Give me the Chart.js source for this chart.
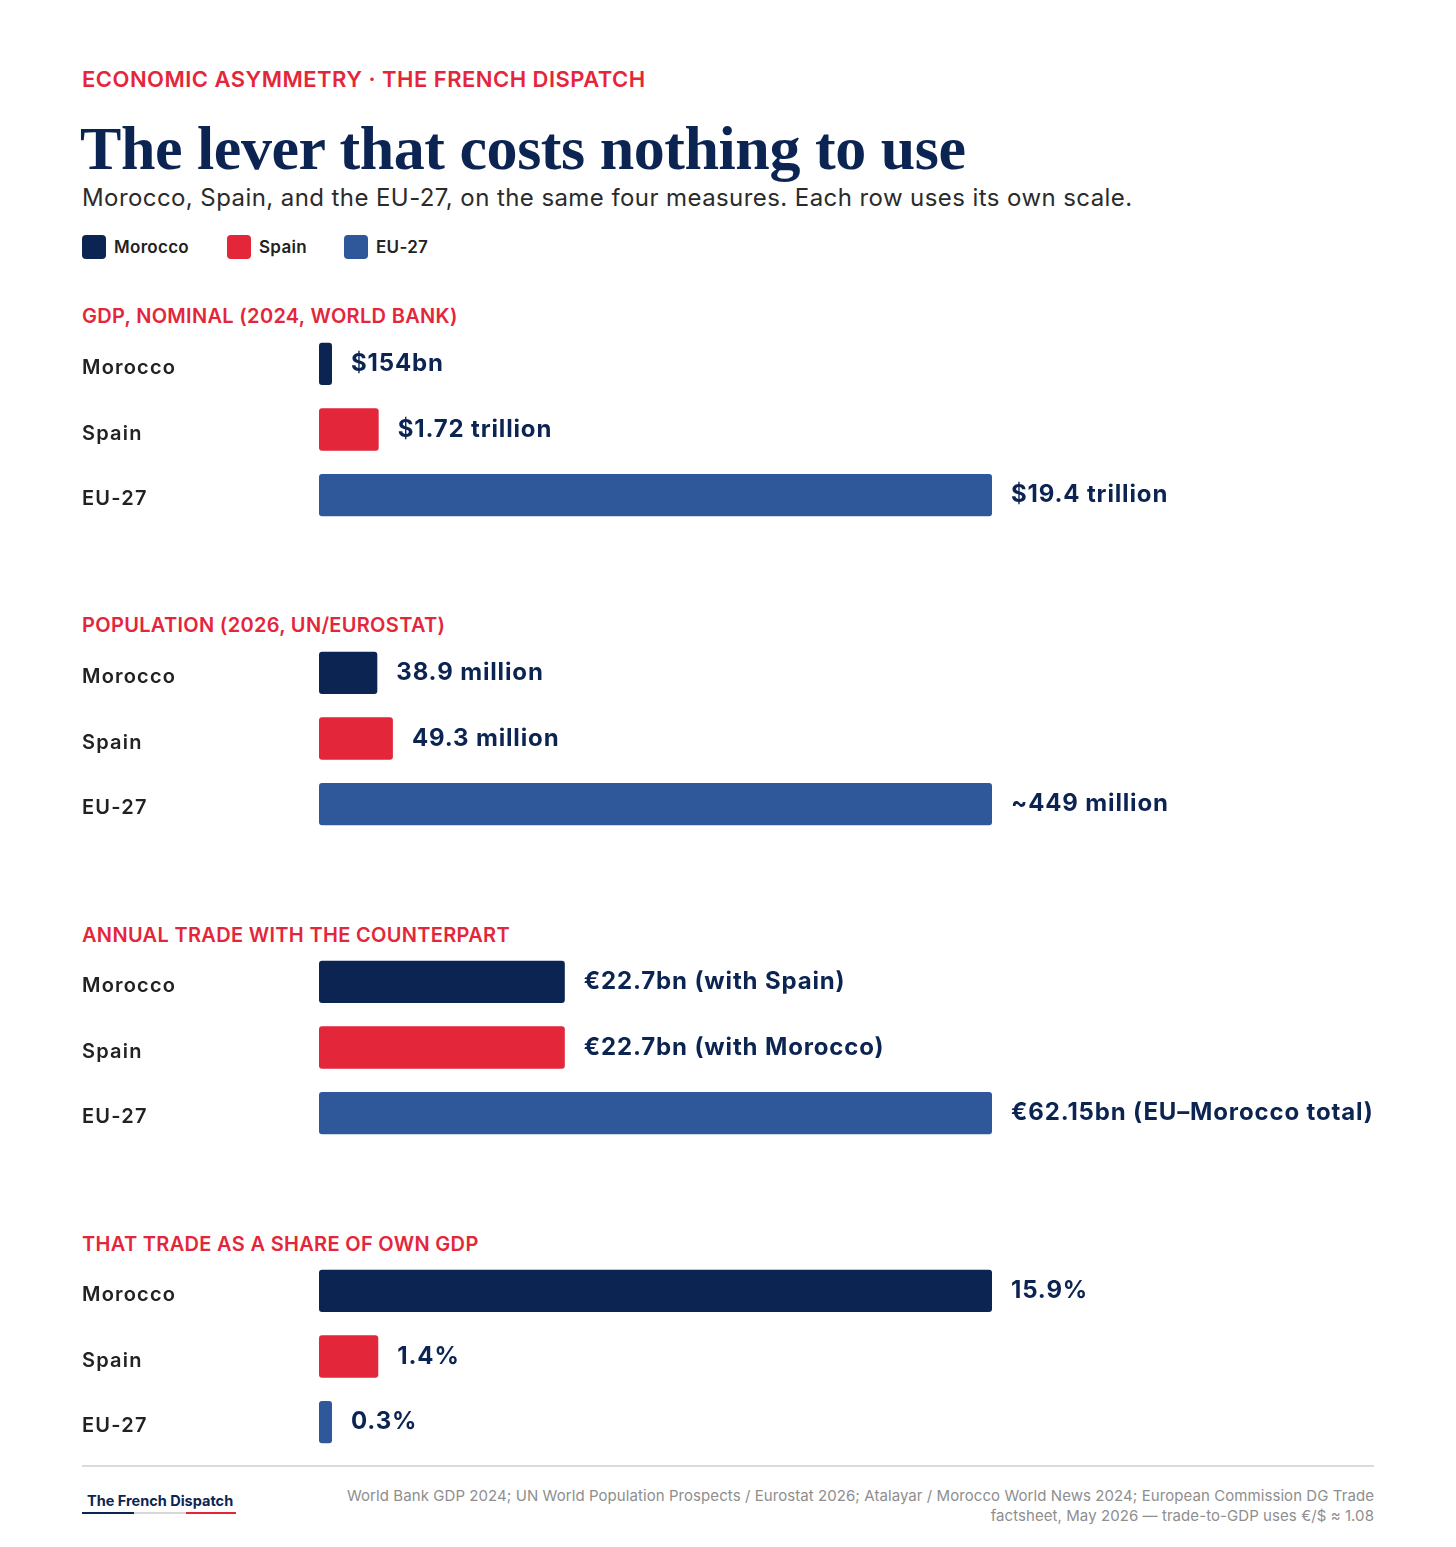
<!DOCTYPE html>
<html>
<head>
<meta charset="utf-8">
<script src="https://cdn.jsdelivr.net/npm/chart.js@4.4.1/dist/chart.umd.min.js"></script>
<style>
  html, body { margin: 0; padding: 0; background: #ffffff; }
  #page { position: relative; width: 1456px; height: 1547px; background: #ffffff; overflow: hidden; font-family: Inter, "Noto Sans", sans-serif; }
  .abs { position: absolute; white-space: nowrap; }
  #kicker { left: 82px; top: 66px; font-size: 22px; font-weight: 600; color: #e4263a; letter-spacing: 0.48px; }
  #title { left: 80px; top: 110px; font-family: "Liberation Serif", serif; font-weight: 700; font-size: 62px; color: #0c2452; letter-spacing: -0.45px; line-height: 76px; }
  #subtitle { left: 82px; top: 183px; font-size: 24px; font-weight: 400; color: #2b2b2b; letter-spacing: 0.42px; }
  .legend { top: 235px; display: flex; align-items: center; font-size: 17px; font-weight: 600; color: #222; letter-spacing: 0.3px; }
  .legend .sw { width: 24px; height: 24px; border-radius: 4px; margin-right: 8px; }
  .sect { left: 82px; font-size: 20px; font-weight: 600; color: #e4263a; letter-spacing: 0.32px; }
  .chartbox { position: absolute; left: 82px; width: 1340px; height: 197px; }
  #divider { left: 82px; top: 1465px; width: 1292px; height: 2px; background: #dcdcd6; }
  #brand { left: 87px; top: 1492px; font-size: 14.5px; font-weight: 700; color: #0c2452; }
  .ul { top: 1512px; height: 2px; }
  #source { right: 82px; top: 1486px; text-align: right; font-size: 15px; color: #8e8e8e; line-height: 20px; letter-spacing: 0.07px; }
</style>
</head>
<body>
<div id="page">
  <div id="kicker" class="abs">ECONOMIC ASYMMETRY · THE FRENCH DISPATCH</div>
  <div id="title" class="abs">The lever that costs nothing to use</div>
  <div id="subtitle" class="abs">Morocco, Spain, and the EU-27, on the same four measures. Each row uses its own scale.</div>
  <div id="legendRow"></div>
  <div id="divider" class="abs"></div>
  <div id="brand" class="abs">The French Dispatch</div>
  <div class="abs ul" style="left:82px;width:52px;background:#0c2452;"></div>
  <div class="abs ul" style="left:134px;width:52px;background:#d8d8d8;"></div>
  <div class="abs ul" style="left:186px;width:50px;background:#e4263a;"></div>
  <div id="source" class="abs">World Bank GDP 2024; UN World Population Prospects / Eurostat 2026; Atalayar / Morocco World News 2024; European Commission DG Trade<br>factsheet, May 2026 — trade-to-GDP uses €/$ ≈ 1.08</div>
</div>
<script>
// ---- Data ----
const categories = ['Morocco', 'Spain', 'EU-27'];
const seriesColors = ['#0c2452', '#e4263a', '#2e5899'];

const sectionTitles = [
  'GDP, NOMINAL (2024, WORLD BANK)',
  'POPULATION (2026, UN/EUROSTAT)',
  'ANNUAL TRADE WITH THE COUNTERPART',
  'THAT TRADE AS A SHARE OF OWN GDP'
];

const gdpValues = [154, 1720, 19400];            // $bn
const gdpLabels = ['$154bn', '$1.72 trillion', '$19.4 trillion'];

const populationValues = [38.9, 49.3, 449];      // million
const populationLabels = ['38.9 million', '49.3 million', '~449 million'];

const tradeValues = [22.7, 22.7, 62.15];         // €bn
const tradeLabels = ['€22.7bn (with Spain)', '€22.7bn (with Morocco)', '€62.15bn (EU–Morocco total)'];

const shareValues = [15.9, 1.4, 0.3];            // % of own GDP
const shareLabels = ['15.9%', '1.4%', '0.3%'];

const sectionValues = [gdpValues, populationValues, tradeValues, shareValues];
const sectionValueLabels = [gdpLabels, populationLabels, tradeLabels, shareLabels];

// ---- Legend ----
const legendX = [82, 227, 344];
const legendRow = document.getElementById('legendRow');
categories.forEach((c, i) => {
  const d = document.createElement('div');
  d.className = 'abs legend';
  d.style.left = legendX[i] + 'px';
  d.innerHTML = '<div class="sw" style="background:' + seriesColors[i] + '"></div><span>' + c + '</span>';
  legendRow.appendChild(d);
});

// ---- Plugins ----
const spacingPlugin = {
  id: 'tickSpacing',
  beforeDraw(chart) { chart.ctx.letterSpacing = '1.2px'; }
};
const valueLabelPlugin = {
  id: 'valueLabels',
  afterDatasetsDraw(chart) {
    const ctx = chart.ctx;
    const labels = chart.options.plugins.valueLabels.labels;
    const meta = chart.getDatasetMeta(0);
    ctx.save();
    ctx.letterSpacing = '0.85px';
    ctx.font = '700 24px Inter, "Noto Sans", sans-serif';
    ctx.fillStyle = '#0c2452';
    ctx.textAlign = 'left';
    ctx.textBaseline = 'middle';
    meta.data.forEach((bar, i) => {
      ctx.fillText(labels[i], bar.x + 19, bar.y);
    });
    ctx.restore();
  }
};

// ---- Sections ----
const page = document.getElementById('page');
const step = 309.3;
sectionValues.forEach((vals, k) => {
  const t = document.createElement('div');
  t.className = 'abs sect';
  t.style.top = (304 + step * k) + 'px';
  t.textContent = sectionTitles[k];
  page.appendChild(t);

  const box = document.createElement('div');
  box.className = 'chartbox';
  box.style.top = (330.5 + step * k) + 'px';
  const cv = document.createElement('canvas');
  box.appendChild(cv);
  page.appendChild(box);

  new Chart(cv, {
    type: 'bar',
    data: {
      labels: categories,
      datasets: [{
        data: vals,
        backgroundColor: seriesColors,
        borderRadius: 3,
        borderSkipped: false,
        barPercentage: 0.645,
        categoryPercentage: 1.0,
        minBarLength: 13
      }]
    },
    plugins: [spacingPlugin, valueLabelPlugin],
    options: {
      indexAxis: 'y',
      responsive: true,
      maintainAspectRatio: false,
      animation: false,
      layout: { padding: { left: 0, right: 430, top: 0, bottom: 0 } },
      plugins: {
        legend: { display: false },
        tooltip: { enabled: false },
        valueLabels: { labels: sectionValueLabels[k] }
      },
      scales: {
        x: { display: false, min: 0, max: Math.max(...vals) },
        y: {
          grid: { display: false },
          border: { display: false },
          afterFit(scale) { scale.width = 237; scale.paddingTop = 0; scale.paddingBottom = 0; },
          ticks: {
            crossAlign: 'far',
            padding: 0,
            labelOffset: 4,
            color: '#222222',
            font: { family: 'Inter, "Noto Sans", sans-serif', size: 20, weight: '600' }
          }
        }
      }
    }
  });
});
</script>
</body>
</html>
